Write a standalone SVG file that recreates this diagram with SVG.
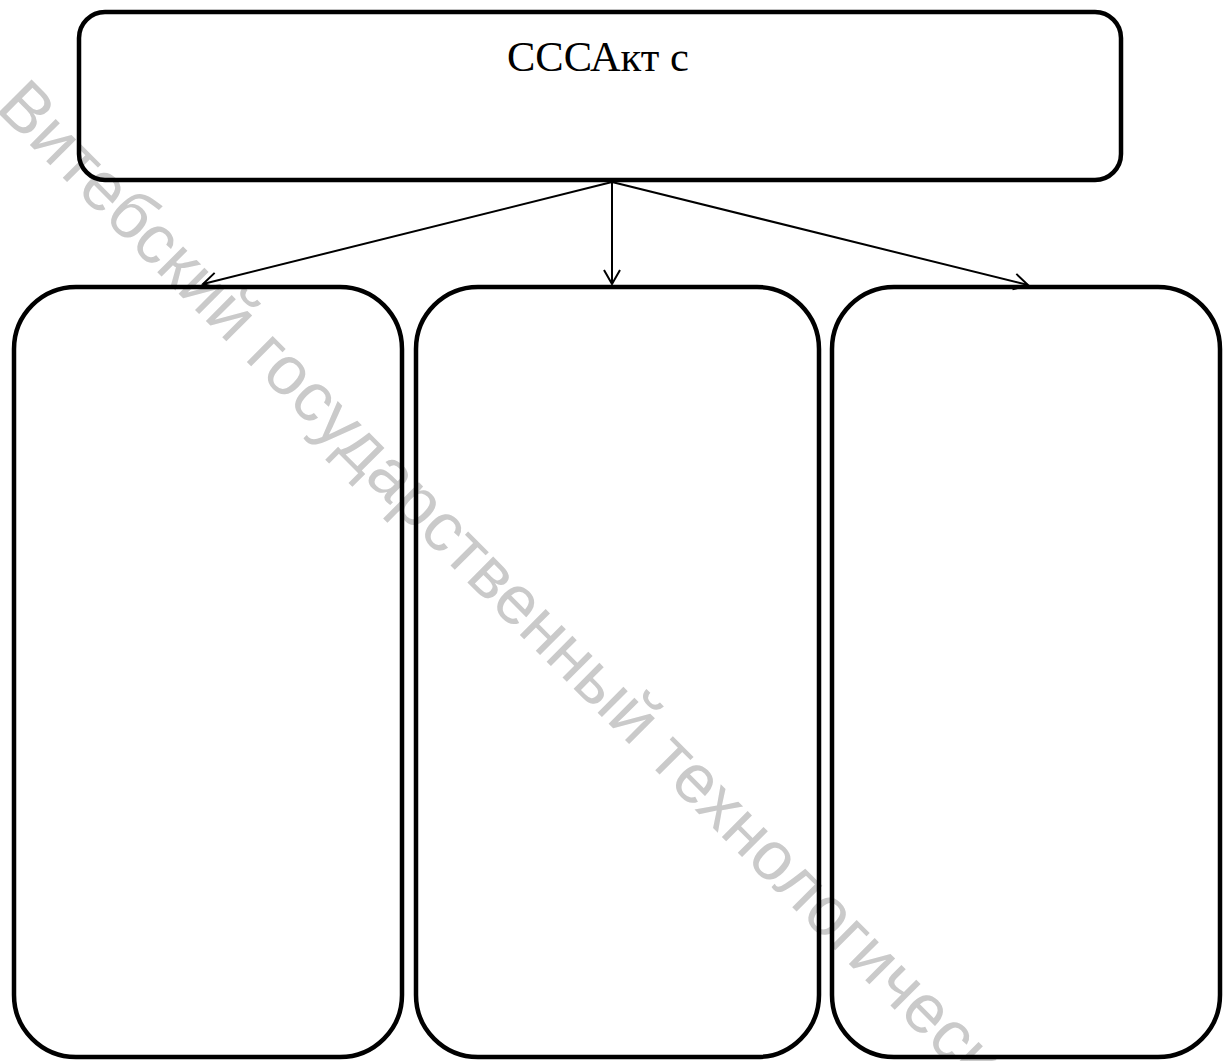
<svg xmlns="http://www.w3.org/2000/svg" width="1224" height="1061" viewBox="0 0 1224 1061">
<style>
.box{fill:none;stroke:#000;stroke-width:4.5}
.conn{fill:none;stroke:#000;stroke-width:2}
.title{font-family:"Liberation Serif","Times New Roman",serif;font-size:42.5px;fill:#000}
.wm{font-family:"Liberation Sans",Arial,sans-serif;font-size:69px;fill:#cacaca}
</style>
<defs>
<marker id="arr" viewBox="0 0 20 20" refX="18" refY="10" markerWidth="20" markerHeight="20" markerUnits="userSpaceOnUse" orient="auto">
<path d="M4,2 L18,10 L4,18" fill="none" stroke="#000" stroke-width="2"/>
</marker>
</defs>
<rect width="1224" height="1061" fill="#fff"/>
<text class="wm" transform="translate(-6,109) rotate(45)">Витебский государственный технологический</text>
<g id="top">
<rect class="box" x="79" y="12" width="1042" height="168" rx="26" ry="26"/>
<text class="title" x="507" y="71">СССАкт с</text>
</g>
<g id="left">
<rect class="box" x="14" y="287" width="388" height="770" rx="62" ry="62"/>
</g>
<g id="middle">
<rect class="box" x="416" y="287" width="403" height="770" rx="62" ry="62"/>
</g>
<g id="right">
<rect class="box" x="832" y="287" width="388" height="770" rx="62" ry="62"/>
</g>
<g id="connectors">
<line class="conn" x1="612" y1="182" x2="203" y2="284" marker-end="url(#arr)"/>
<line class="conn" x1="612" y1="182" x2="612" y2="284" marker-end="url(#arr)"/>
<line class="conn" x1="612" y1="182" x2="1028" y2="285" marker-end="url(#arr)"/>
</g>
</svg>
